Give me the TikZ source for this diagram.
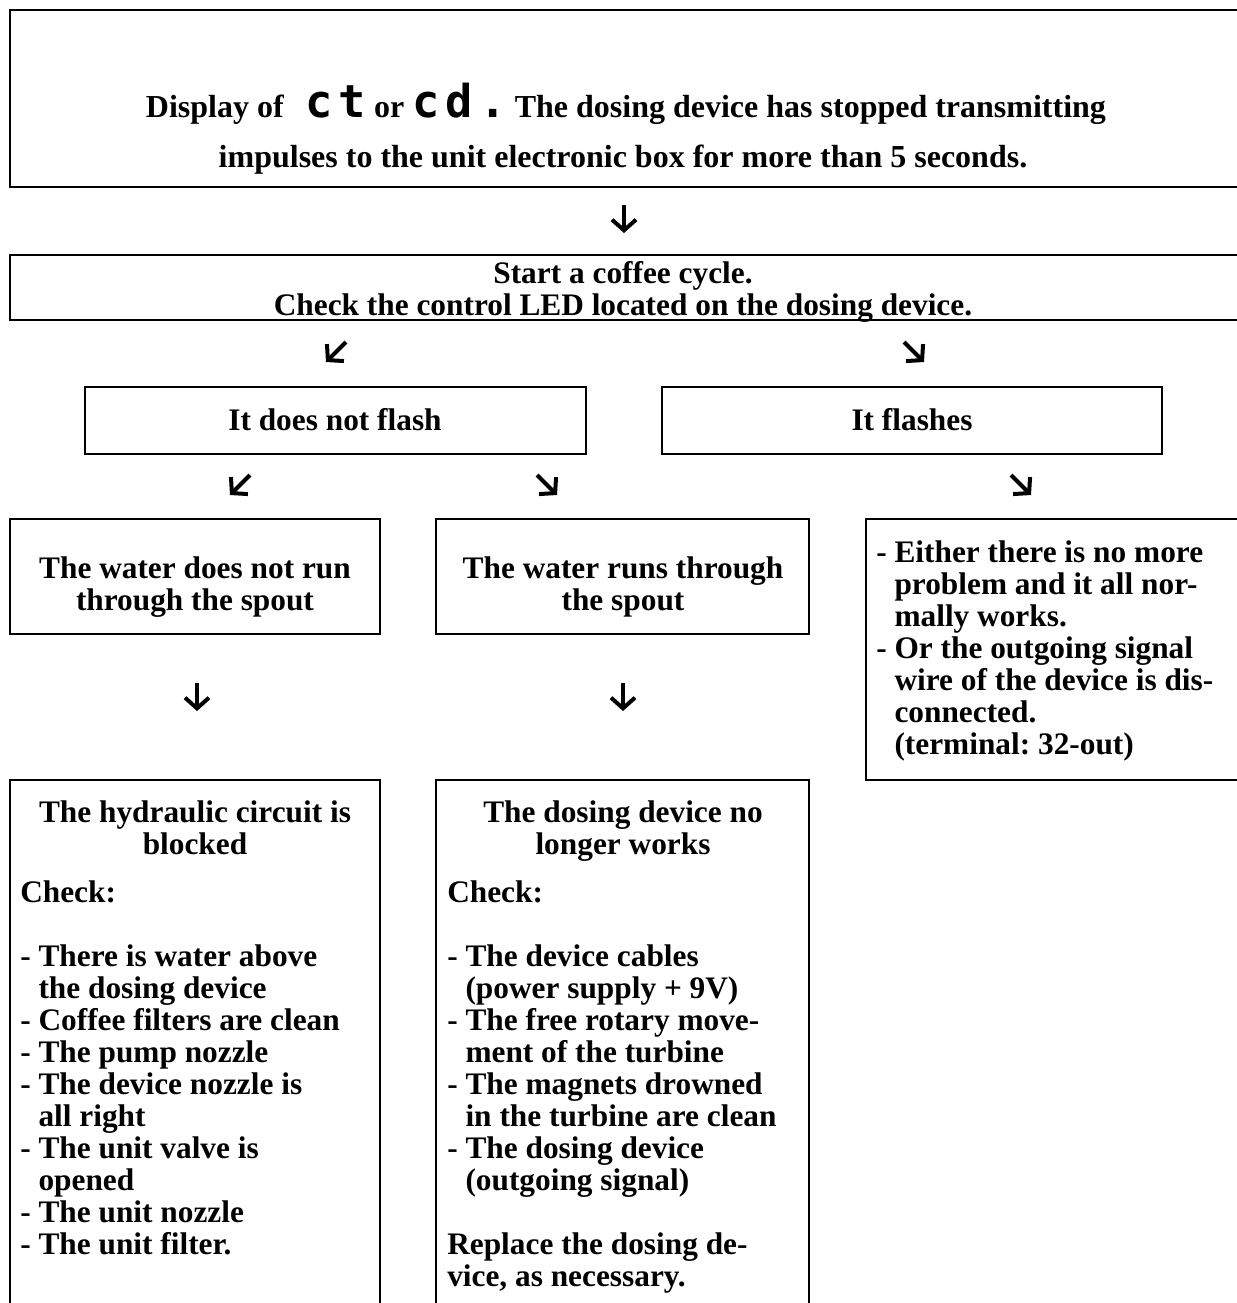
\documentclass[tikz,border=0pt]{standalone}
\usepackage{fontspec}
\setmainfont{Liberation Serif}
\newfontfamily\lcdfont[LetterSpace=14]{DejaVu Sans Mono}
\usetikzlibrary{arrows.meta}
\frenchspacing
\newcommand{\ind}{\hphantom{- }}
\newcommand{\disp}[1]{{\lcdfont\bfseries\fontsize{34}{34}\selectfont #1}}

\tikzset{
  boxline/.style={line width=1.2pt},
  txt/.style={inner sep=0pt, font=\fontsize{23.5}{24}\selectfont\bfseries,
              execute at begin node={\rule{0pt}{17.25pt}}},
  ctrtxt/.style={txt, align=center, anchor=north},
  lfttxt/.style={txt, align=left, anchor=north west},
  toptxt/.style={inner sep=0pt, anchor=base, font=\fontsize{24}{24}\selectfont\bfseries},
  dirarrow/.style={line width=3pt, -{Straight Barb[length=8pt,width=18pt]}},
}

\begin{document}
\begin{tikzpicture}[x=0.75pt,y=0.75pt,yscale=-1,xscale=1]
\useasboundingbox (0,0) rectangle (1236,1303);
% frames
\draw [boxline] (10,10) -- (1250,10) -- (1250,187) -- (10,187) -- cycle ;
\draw [boxline] (10,255) -- (1250,255) -- (1250,320) -- (10,320) -- cycle ;
\draw [boxline] (85,387) -- (586,387) -- (586,454) -- (85,454) -- cycle ;
\draw [boxline] (662,387) -- (1162,387) -- (1162,454) -- (662,454) -- cycle ;
\draw [boxline] (10,519) -- (380,519) -- (380,634) -- (10,634) -- cycle ;
\draw [boxline] (436,519) -- (809,519) -- (809,634) -- (436,634) -- cycle ;
\draw [boxline] (866,519) -- (1250,519) -- (1250,780) -- (866,780) -- cycle ;
\draw [boxline] (10,780) -- (380,780) -- (380,1315) -- (10,1315) -- cycle ;
\draw [boxline] (436,780) -- (809,780) -- (809,1315) -- (436,1315) -- cycle ;

% texts
\node (msg1) [toptxt] at (626,117) {Display of \hspace{10pt}\disp{ct} or \disp{cd.} The dosing device has stopped transmitting};
\node (msg2) [toptxt] at (623,167) {impulses to the unit electronic box for more than 5 seconds.};
\node (start) [ctrtxt] at (623,261) {Start a coffee cycle.\\Check the control LED located on the dosing device.};
\node (noflash) [ctrtxt] at (335,407) {It does not flash};
\node (flash) [ctrtxt] at (912,407) {It flashes};
\node (dry) [ctrtxt] at (195,556) {The water does not run\\through the spout};
\node (wet) [ctrtxt] at (623,556) {The water runs through\\the spout};
\node (ok) [lfttxt] at (876,540) {- Either there is no more\\\ind problem and it all nor-\\\ind mally works.\\- Or the outgoing signal\\\ind wire of the device is dis-\\\ind connected.\\\ind (terminal: 32-out)};
\node (block) [ctrtxt] at (195,800) {The hydraulic circuit is\\blocked};
\node (blockchk) [lfttxt] at (20,880) {Check:\\[24pt]- There is water above\\\ind the dosing device\\- Coffee filters are clean\\- The pump nozzle\\- The device nozzle is\\\ind all right\\- The unit valve is\\\ind opened\\- The unit nozzle\\- The unit filter.};
\node (dead) [ctrtxt] at (623,800) {The dosing device no\\longer works};
\node (deadchk) [lfttxt] at (447,880) {Check:\\[24pt]- The device cables\\\ind (power supply + 9V)\\- The free rotary move-\\\ind ment of the turbine\\- The magnets drowned\\\ind in the turbine are clean\\- The dosing device\\\ind (outgoing signal)\\[24pt]Replace the dosing de-\\vice, as necessary.};

% arrows
\coordinate (a0s) at (624,205); \coordinate (a0e) at (624,233);
\coordinate (a1s) at (346,342); \coordinate (a1e) at (326,362);
\coordinate (a2s) at (904,342); \coordinate (a2e) at (924,362);
\coordinate (a3s) at (250,475); \coordinate (a3e) at (230,495);
\coordinate (a4s) at (537,475); \coordinate (a4e) at (557,495);
\coordinate (a5s) at (1011,475); \coordinate (a5e) at (1031,495);
\coordinate (a6s) at (197,683); \coordinate (a6e) at (197,711);
\coordinate (a7s) at (623,683); \coordinate (a7e) at (623,711);
\foreach \s/\e in {a0s/a0e,a1s/a1e,a2s/a2e,a3s/a3e,a4s/a4e,a5s/a5e,a6s/a6e,a7s/a7e}
  \draw [dirarrow] (\s) -- (\e);
\end{tikzpicture}
\end{document}
